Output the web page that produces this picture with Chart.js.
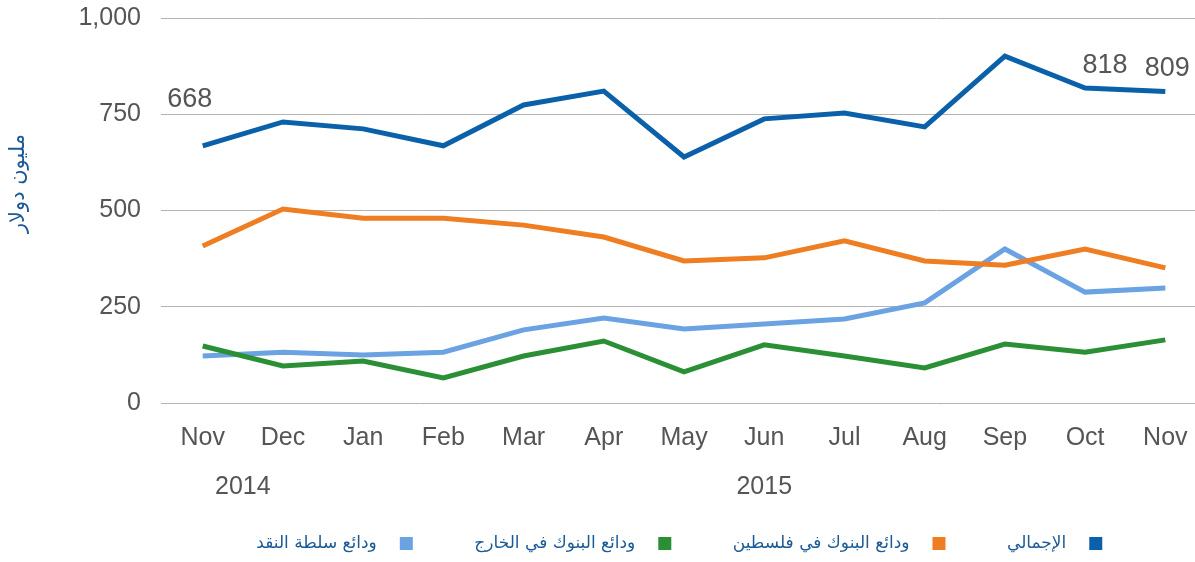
<!DOCTYPE html>
<html>
<head>
<meta charset="utf-8">
<script src="https://cdn.jsdelivr.net/npm/chart.js@4.4.0/dist/chart.umd.min.js"></script>
<style>
  html, body { margin: 0; padding: 0; background: #fff; }
  #wrap { width: 1195px; height: 562px; }
</style>
</head>
<body>
<div id="wrap"><canvas id="chart-area"></canvas></div>
<script>
// data
var months = ["Nov", "Dec", "Jan", "Feb", "Mar", "Apr", "May", "Jun", "Jul", "Aug", "Sep", "Oct", "Nov"];
var years = ["2014", "2015"];
var yearAt = [0.5, 7];

var seriesNames = ["الإجمالي", "ودائع البنوك في فلسطين", "ودائع البنوك في الخارج", "ودائع سلطة النقد"];
var total    = [668, 730, 712, 668, 774, 810, 639, 738, 753, 717, 901, 818, 809];
var palBanks = [408, 504, 480, 480, 462, 431, 369, 377, 421, 369, 358, 400, 351];
var abroad   = [148,  96, 109,  65, 122, 161,  81, 151, 122,  91, 153, 132, 164];
var pma      = [122, 132, 125, 132, 190, 221, 192, 205, 218, 260, 400, 288, 299];
var colors = ["#0b61a9", "#ef7d22", "#2b8f35", "#6ba2e2"];
var yTitle = "مليون دولار";

// only these points of the total get a value label
var labelled = [0, 11, 12];

function pts(arr) {
    return arr.map(function (v, i) { return { x: i, y: v }; });
}

var tickFont = { family: "'Liberation Sans', Arial, sans-serif", size: 25 };

var extras = {
    id: 'extras',
    afterDatasetsDraw: function (chart) {
        var ctx = chart.ctx;
        var xs = chart.scales.x;
        var ys = chart.scales.y;
        ctx.save();
        ctx.font = "27px 'Liberation Sans', Arial, sans-serif";
        ctx.fillStyle = "#555";
        ctx.textAlign = "center";
        ctx.textBaseline = "middle";
        var meta = chart.getDatasetMeta(0);
        labelled.forEach(function (i) {
            var p = meta.data[i];
            var dx = i === 0 ? -13 : (i === 11 ? 20 : 2);
            var dy = i === 0 ? -46 : -23;
            ctx.fillText(String(total[i]), p.x + dx, p.y + dy);
        });
        // year row under the month ticks
        ctx.font = "25px 'Liberation Sans', Arial, sans-serif";
        years.forEach(function (y, k) {
            ctx.fillText(y, xs.getPixelForValue(yearAt[k]), 487);
        });
        // axis title, a bit above the middle like the original
        ctx.translate(19, ys.getPixelForValue(570));
        ctx.rotate(-Math.PI / 2);
        ctx.fillStyle = "#1a5a96";
        ctx.font = "21px 'DejaVu Sans', sans-serif";
        ctx.fillText(yTitle, 0, 0);
        ctx.restore();
    }
};

var config = {
    type: 'line',
    data: {
        datasets: [
            { label: seriesNames[0], data: pts(total) },
            { label: seriesNames[1], data: pts(palBanks) },
            { label: seriesNames[2], data: pts(abroad) },
            { label: seriesNames[3], data: pts(pma) }
        ].map(function (d, k) {
            d.borderColor = colors[k];
            d.backgroundColor = colors[k];
            d.borderWidth = 5;
            d.pointRadius = 0;
            d.tension = 0;
            d.fill = false;
            return d;
        })
    },
    options: {
        responsive: true,
        maintainAspectRatio: false,
        animation: false,
        layout: { padding: { top: 18, right: 0, left: 0, bottom: 0 } },
        plugins: {
            tooltip: { enabled: false },
            legend: {
                position: 'bottom',
                fullSize: false,
                rtl: true,
                textDirection: 'rtl',
                labels: {
                    boxWidth: 8,
                    boxHeight: 8,
                    padding: 64,
                    color: "#1a5a96",
                    font: { family: "'DejaVu Sans', sans-serif", size: 17 },
                    generateLabels: function (chart) {
                        // wider gap between square and text, as in the original
                        var items = Chart.defaults.plugins.legend.labels.generateLabels(chart);
                        items.forEach(function (it) { it.text = "\u2002\u2002" + it.text; });
                        return items;
                    }
                }
            }
        },
        scales: {
            x: {
                type: 'linear',
                min: -0.52,
                max: 12.37,
                grid: { display: false, drawTicks: false },
                border: { display: false },
                afterFit: function (s) {
                    s.height = 68;
                    s.paddingLeft = 0;
                    s.paddingRight = 0;
                },
                ticks: {
                    stepSize: 1,
                    includeBounds: false,
                    autoSkip: false,
                    maxRotation: 0,
                    padding: 20,
                    color: "#555",
                    font: tickFont,
                    callback: function (v) {
                        return Number.isInteger(v) ? months[v] : null;
                    }
                }
            },
            y: {
                min: 0,
                max: 1000,
                afterFit: function (s) {
                    s.width = 161;
                    s.paddingTop = 0;
                    s.paddingBottom = 0;
                },
                grid: { color: "#b3b3b3", lineWidth: 1, drawTicks: false },
                border: { display: false },
                ticks: {
                    stepSize: 250,
                    padding: 20,
                    color: "#555",
                    font: tickFont
                }
            }
        }
    },
    plugins: [extras]
};

window.onload = function () {
    var ctx = document.getElementById("chart-area").getContext("2d");
    window.myLine = new Chart(ctx, config);
};
</script>
</body>
</html>
